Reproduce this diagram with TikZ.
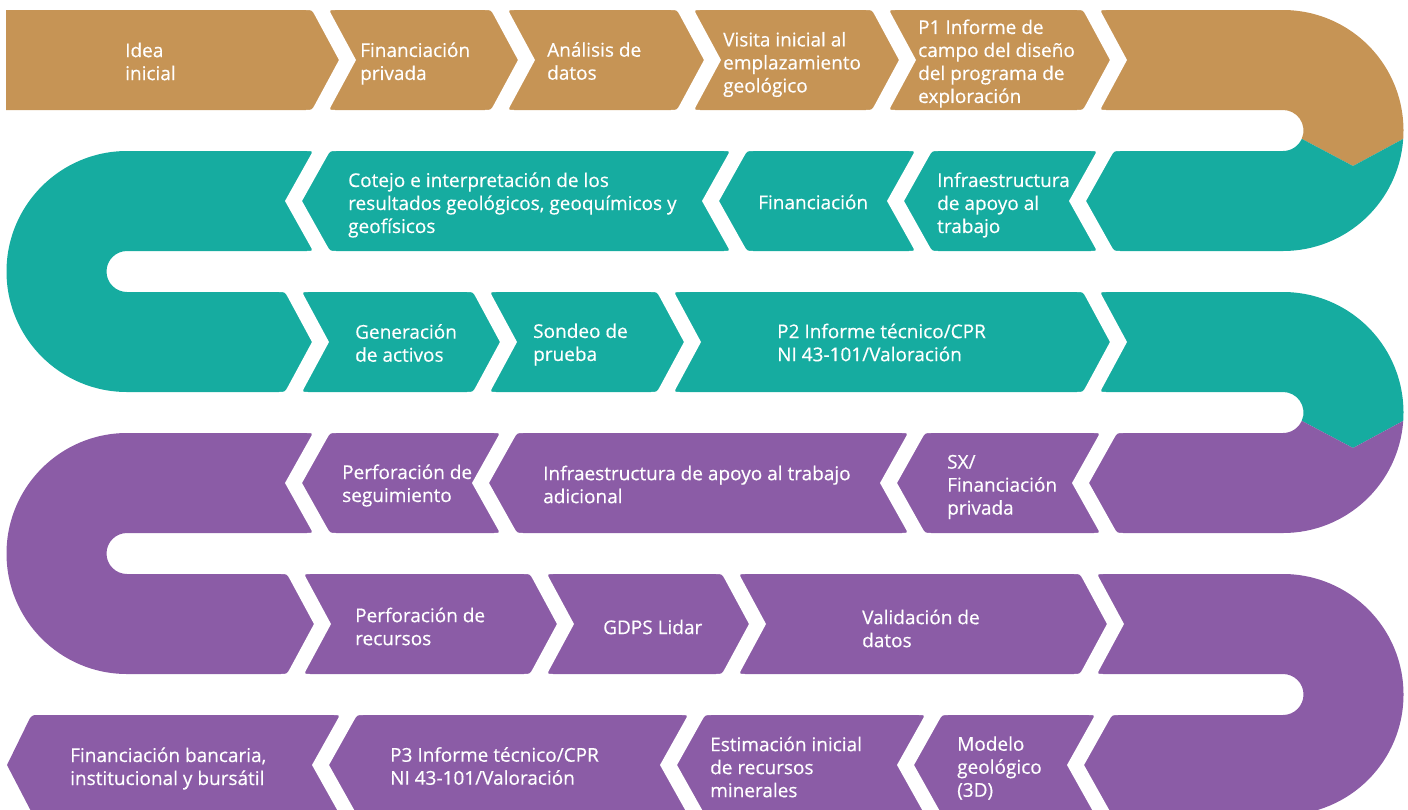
\documentclass[tikz,border=0pt]{standalone}
\usepackage{fontspec}
\setmainfont{Open Sans}[FakeBold=0.4]
\usepackage{tikz}
\definecolor{ochreband}{HTML}{C69455}
\definecolor{tealband}{HTML}{16ACA0}
\definecolor{plumband}{HTML}{8B5CA6}
% white notch between two stages: #1 = x of the upper corner, #2 = top of the row
\newcommand{\rgap}[2]{\fill[white] (#1-6,#2-4) -- (#1-6,#2) .. controls (#1,#2) .. (#1+3.2,#2+5.9) -- (#1+27,#2+50) -- (#1+3.2,#2+94.1) .. controls (#1,#2+100) .. (#1-6,#2+100) -- (#1-6,#2+104) -- (#1+23,#2+104) -- (#1+23,#2+100) .. controls (#1+17,#2+100) .. (#1+20.2,#2+94.1) -- (#1+44,#2+50) -- (#1+20.2,#2+5.9) .. controls (#1+17,#2) .. (#1+23,#2) -- (#1+23,#2-4) -- cycle;}
\newcommand{\lgap}[2]{\fill[white] (#1-6,#2-4) -- (#1-6,#2) .. controls (#1,#2) .. (#1-3.3,#2+5.9) -- (#1-28,#2+50) -- (#1-3.3,#2+94.1) .. controls (#1,#2+100) .. (#1-6,#2+100) -- (#1-6,#2+104) -- (#1+23,#2+104) -- (#1+23,#2+100) .. controls (#1+17,#2+100) .. (#1+13.7,#2+94.1) -- (#1-11,#2+50) -- (#1+13.7,#2+5.9) .. controls (#1+17,#2) .. (#1+23,#2) -- (#1+23,#2-4) -- cycle;}

\begin{document}
\begin{tikzpicture}[x=1pt, y=-1pt,
	stage/.style={anchor=west, align=left, inner sep=0pt, text=white, font=\fontsize{19}{23}\selectfont}]
	\useasboundingbox (0,0) rectangle (1408,809);
	\clip (0,0) rectangle (1408,809);

	% bands
	\fill[ochreband] (6,10) -- (1283,10) arc[start angle=-90, end angle=4, radius=120.5] -- (1353,166) -- (1301.73,138.84) arc[start angle=24, end angle=-90, radius=20.5] -- (6,110) -- cycle;
	\fill[tealband] (1403.21,138.91) arc[start angle=4, end angle=90, radius=120.5] -- (127,251) arc[start angle=-90, end angle=-270, radius=20.5] -- (1283,292) arc[start angle=-90, end angle=4, radius=120.5] -- (1353,448) -- (1301.73,420.84) arc[start angle=24, end angle=-90, radius=20.5] -- (127,392) arc[start angle=90, end angle=270, radius=120.5] -- (1283,151) arc[start angle=90, end angle=24, radius=20.5] -- (1353,166) -- cycle;
	\fill[plumband] (1403.21,420.91) arc[start angle=4, end angle=90, radius=120.5] -- (127,533) arc[start angle=-90, end angle=-270, radius=20.5] -- (1283,574) arc[start angle=-90, end angle=90, radius=120.5] -- (33,815) -- (7,765) -- (30,718) .. controls (33,715) .. (38,715) -- (1283,715) arc[start angle=90, end angle=-90, radius=20.5] -- (127,674) arc[start angle=90, end angle=270, radius=120.5] -- (1283,433) arc[start angle=90, end angle=24, radius=20.5] -- (1353,448) -- cycle;

	% notches
	\rgap{312}{10} \rgap{491}{10} \rgap{677}{10} \rgap{872}{10} \rgap{1083}{10}
	\lgap{313}{151} \lgap{730}{151} \lgap{915}{151} \lgap{1097}{151}
	\rgap{285}{292} \rgap{473}{292} \rgap{657}{292} \rgap{1083}{292}
	\lgap{313}{433} \lgap{500}{433} \lgap{908}{433} \lgap{1100}{433}
	\rgap{287}{574} \rgap{530}{574} \rgap{722}{574} \rgap{1080}{574}
	\lgap{340}{715} \lgap{688}{715} \lgap{925}{715} \lgap{1095}{715}

	% stages
	\node[stage] (idea) at (125,61.5) {Idea\\inicial};
	\node[stage] (privada) at (360,63.5) {Financiación\\privada};
	\node[stage] (analisis) at (547,61) {Análisis de\\datos};
	\node[stage] (visita) at (723,64.5) {Visita inicial al\\emplazamiento\\geológico};
	\node[stage] (pone) at (918,63.5) {P1 Informe de\\campo del diseño\\del programa de\\exploración};

	\node[stage] (cotejo) at (348,205) {Cotejo e interpretación de los\\resultados geológicos, geoquímicos y\\geofísicos};
	\node[stage] (financ) at (758,202) {Financiación};
	\node[stage] (infra) at (937,205) {Infraestructura\\de apoyo al\\trabajo};

	\node[stage] (activos) at (355,343) {Generación\\de activos};
	\node[stage] (sondeo) at (533,344.5) {Sondeo de\\prueba};
	\node[stage] (ptwo) at (777,342.5) {P2 Informe técnico/CPR\\NI 43-101/Valoración};

	\node[stage] (seguim) at (342,485.5) {Perforación de\\seguimiento};
	\node[stage] (infrad) at (543,484.5) {Infraestructura de apoyo al trabajo\\adicional};
	\node[stage] (sx) at (947,487) {SX/\\Financiación\\privada};

	\node[stage] (recursos) at (355,626.5) {Perforación de\\recursos};
	\node[stage] (lidar) at (603,627) {GDPS Lidar};
	\node[stage] (valid) at (862,628.5) {Validación de\\datos};

	\node[stage] (bancaria) at (70,768.5) {Financiación bancaria,\\institucional y bursátil};
	\node[stage] (pthree) at (390,766) {P3 Informe técnico/CPR\\NI 43-101/Valoración};
	\node[stage] (estim) at (710,767) {Estimación inicial\\de recursos\\minerales};
	\node[stage] (modelo) at (957,768) {Modelo\\geológico\\(3D)};
\end{tikzpicture}
\end{document}
